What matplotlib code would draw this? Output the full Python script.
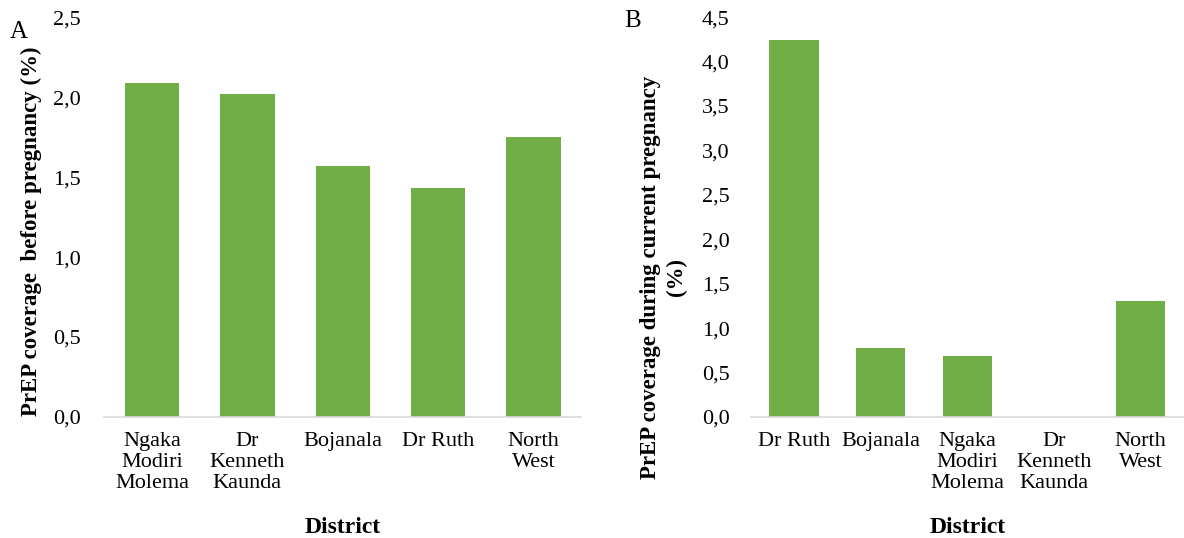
import matplotlib
matplotlib.use("Agg")
import matplotlib.pyplot as plt
from matplotlib.ticker import FuncFormatter

# panel A: coverage before pregnancy
districts_a = ["Ngaka\nModiri\nMolema", "Dr\nKenneth\nKaunda", "Bojanala", "Dr Ruth", "North\nWest"]
before_preg = [2.09, 2.02, 1.57, 1.43, 1.75]

# panel B: coverage during current pregnancy
districts_b = ["Dr Ruth", "Bojanala", "Ngaka\nModiri\nMolema", "Dr\nKenneth\nKaunda", "North\nWest"]
during_preg = [4.24, 0.78, 0.69, 0.0, 1.31]

plt.rcParams['font.family'] = ['Liberation Serif', 'DejaVu Serif']
green = '#70AD47'

fig = plt.figure(figsize=(11.84, 5.38), dpi=100)
axA = fig.add_axes([0.088, 0.225, 0.403, 0.743])
axB = fig.add_axes([0.634, 0.225, 0.366, 0.743])

comma = FuncFormatter(lambda v, p: f"{v:.1f}".replace('.', ','))

def style(ax, names, vals, ymax, ylabel, ypad, lpad, ly):
    x = range(len(vals))
    ax.bar(x, vals, width=0.57, color=green, zorder=2)
    ax.set_xlim(-0.5, len(vals) - 0.5)
    ax.set_ylim(0, ymax)
    ax.set_yticks([i * 0.5 for i in range(int(ymax / 0.5) + 1)])
    ax.yaxis.set_major_formatter(comma)
    ax.set_xticks(list(x))
    ax.set_xticklabels(names, fontsize=16, linespacing=1.15)
    ax.tick_params(axis='y', labelsize=16, length=0, pad=ypad)
    ax.tick_params(axis='x', length=0, pad=11)
    for s in ['top', 'right', 'left']:
        ax.spines[s].set_visible(False)
    ax.spines['bottom'].set_color('#d9d9d9')
    ax.spines['bottom'].set_linewidth(1.2)
    ax.set_xlabel("District", fontsize=17, fontweight='bold', labelpad=17)
    ax.set_ylabel(ylabel, fontsize=16.5, fontweight='bold', labelpad=lpad,
                  linespacing=1.3, y=ly)

style(axA, districts_a, before_preg, 2.5, "PrEP coverage  before pregnancy (%)", 17, 8, 0.465)
style(axB, districts_b, during_preg, 4.5, "PrEP coverage during current pregnancy\n(%)", 15, 11, 0.35)

fig.text(0.008, 0.93, "A", fontsize=18)
fig.text(0.527, 0.95, "B", fontsize=18)

fig.savefig("out.png", dpi=100)
